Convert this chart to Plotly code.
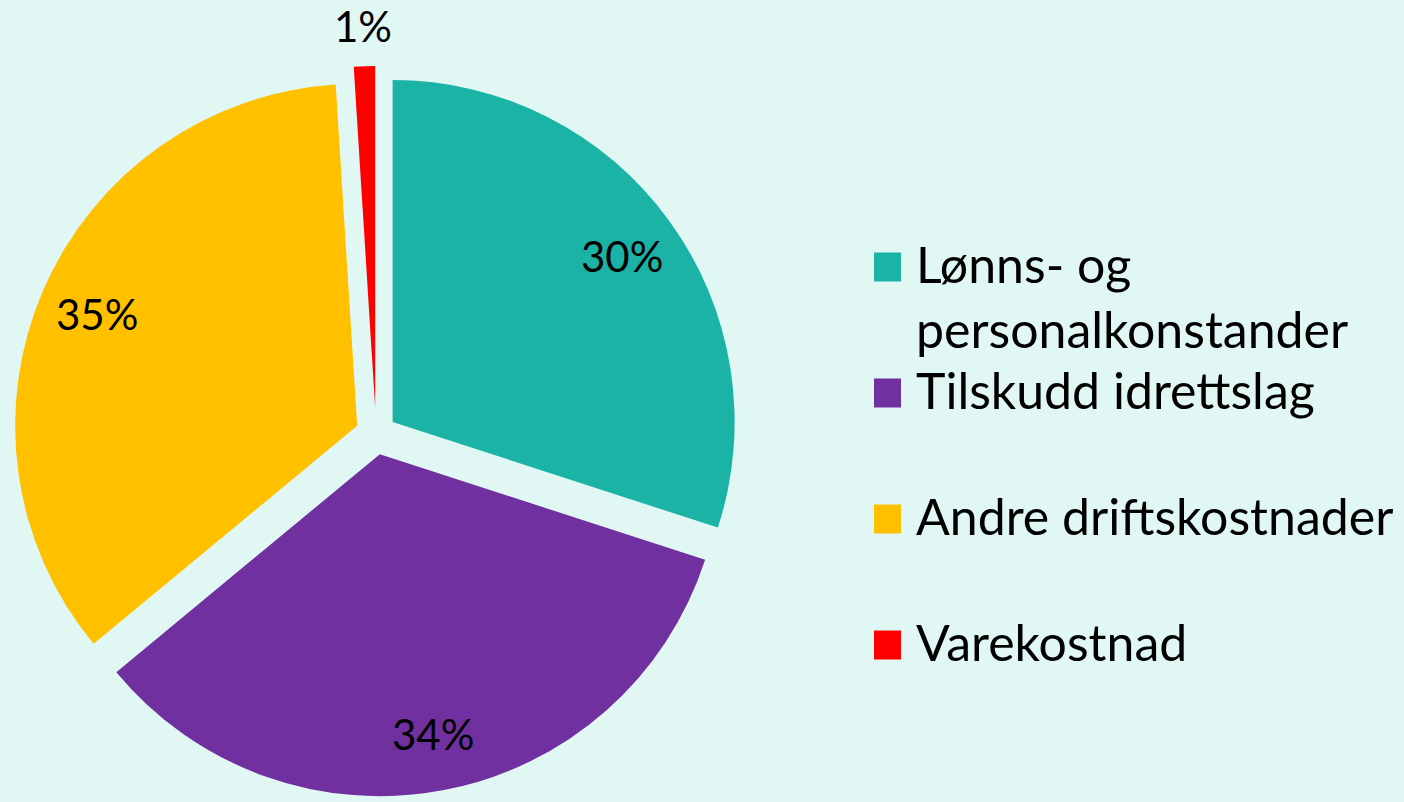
import math
import textwrap
import plotly.graph_objects as go

# ---- data ----
labels = ["Lønns- og personalkonstander", "Tilskudd idrettslag", "Andre driftskostnader", "Varekostnad"]
values = [30, 34, 35, 1]
colors = ["#1AB3A6", "#7030A0", "#FFC000", "#FF0000"]
pulls = [0.06, 0.06, 0.06, 0.076]

W, H = 1404, 802
BG = "#E1F7F4"
FONT = "Lato"

# pie placement (pixels)
cx, cy = 376, 434
half = min(343 * (1 + max(pulls)), H - cy, cy)
r = half / (1 + max(pulls))
dom_x = [(cx - half) / W, (cx + half) / W]
dom_y = [max(0, 1 - (cy + half) / H), min(1, 1 - (cy - half) / H)]

fig = go.Figure()
fig.add_trace(go.Pie(
    labels=labels, values=values, sort=False, direction="clockwise", rotation=0,
    marker=dict(colors=colors, line=dict(width=0)),
    pull=pulls, textinfo="none", hoverinfo="label+percent",
    domain=dict(x=dom_x, y=dom_y), showlegend=False,
))

# percentage labels positioned at slice mid-angles
total = sum(values)
acc = 0
annotations = []
for v, p in zip(values, pulls):
    mid = (acc + v / 2) / total * 2 * math.pi
    acc += v
    frac = v / total
    k = 0.83 if frac > 0.05 else 1.12
    dist = r * k + r * p
    px = cx + dist * math.sin(mid)
    py = cy - dist * math.cos(mid) + 1
    annotations.append(dict(
        x=px / W, y=1 - py / H, xref="paper", yref="paper",
        text=f"{round(v / total * 100)}%", showarrow=False,
        xanchor="center", yanchor="middle",
        font=dict(family=FONT, size=42, color="#000000"),
    ))

# manual legend
shapes = []
leg_x0 = 874
sq_w, sq_h = 27, 29
text_x = 914
y_first = 267
step = 126
for i, (lab, col) in enumerate(zip(labels, colors)):
    yc = y_first + i * step
    shapes.append(dict(
        type="rect", xref="paper", yref="paper",
        x0=leg_x0 / W, x1=(leg_x0 + sq_w) / W,
        y0=1 - (yc + sq_h / 2) / H, y1=1 - (yc - sq_h / 2) / H,
        fillcolor=col, line=dict(width=0),
    ))
    lines = textwrap.wrap(lab, width=21)
    annotations.append(dict(
        x=text_x / W, y=1 - (yc - 35) / H, xref="paper", yref="paper",
        text="<br>".join(lines), showarrow=False, align="left",
        xanchor="left", yanchor="top",
        font=dict(family=FONT, size=50, color="#000000"),
    ))

fig.update_layout(
    width=W, height=H,
    margin=dict(l=0, r=0, t=0, b=0),
    paper_bgcolor=BG, plot_bgcolor=BG,
    annotations=annotations, shapes=shapes,
)

fig.write_html(
    "out.html",
    config={"displayModeBar": False},
    post_script="document.body.style.margin='0';document.body.style.background='%s';" % BG,
)
